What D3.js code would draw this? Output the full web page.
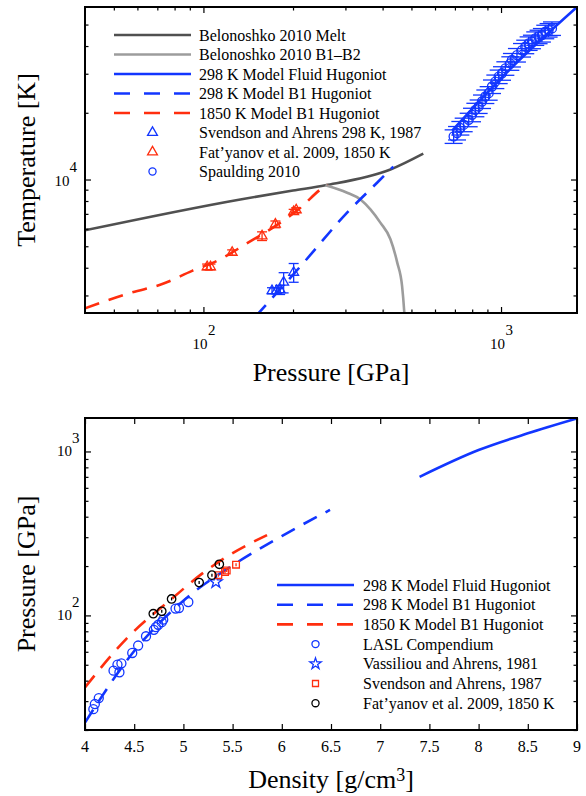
<!DOCTYPE html>
<html><head><meta charset="utf-8">
<script src="https://cdn.jsdelivr.net/npm/d3@7"></script>
<style>
body{margin:0;background:#fff}
svg{display:block}
text{font-family:"Liberation Serif","Times New Roman",serif;fill:#000}
</style>
</head><body><svg id="c" width="586" height="796"></svg>
<script>
// ---------- TOP PANEL DATA (Pressure GPa, Temperature K) ----------
const meltP = [40, 133, 200, 257, 425, 548];
const meltT = [5900, 8130, 8920, 9420, 11090, 13080];
const b1b2P = [257, 304, 337, 364, 393, 425, 448, 465, 473, 478];
const b1b2T = [9420, 8720, 8130, 7330, 6390, 5380, 4220, 3310, 2525, 2000];
const fluidTopP = [685, 1048, 1800];
const fluidTopT = [16600, 30500, 60000];
const b1ColdTopP = [150, 215, 304.5, 384, 434.5];
const b1ColdTopT = [2420, 4152, 7108, 9695, 11440];
const b1HotTopP = [40, 57.6, 72.7, 91.6, 114, 138.4, 181.4, 211.8, 247.2, 261];
const b1HotTopT = [2625, 3097, 3376, 3873, 4372, 5105, 6391, 7463, 9017, 9495];
const svendTriP = [170, 176, 181, 186, 201];
const svendTriT = [3150, 3150, 3180, 3440, 3810];
const svendTriErr = [100, 100, 150, 360, 370];
const fatTriP = [102.9, 105.6, 124.9, 157.4, 174.5, 201, 205];
const fatTriT = [4036, 4036, 4685, 5557, 6280, 7156, 7280];
const fatTriErr = [120, 120, 130, 250, 220, 180, 180];
const spauldP = [693, 711.5, 730, 749, 778.6, 799, 819.9, 841, 863, 885.7, 908.8, 932.5, 956.9, 982, 1007.6, 1034, 1074.5, 1088, 1131, 1176, 1206, 1238, 1270, 1303, 1337, 1372, 1408, 1445, 1483];
const spauldT = [15650, 16210, 17070, 17670, 18600, 19590, 20630, 21350, 22480, 23680, 24510, 26270, 27650, 29120, 30150, 31740, 33430, 34600, 36430, 38370, 39720, 41110, 41830, 43300, 44060, 44830, 46390, 47200, 48020];
const spauldErr = [1100, 1130, 1200, 1240, 1300, 1370, 1440, 1490, 1570, 1660, 1720, 1840, 1940, 2040, 2110, 2220, 2340, 2420, 2550, 2690, 2780, 2880, 2930, 3030, 3080, 3140, 3250, 3300, 3360];

// ---------- BOTTOM PANEL DATA (Density g/cm3, Pressure GPa) ----------
const fluidBotRho = [7.4, 8.0, 8.5, 9.0];
const fluidBotP = [700, 1020, 1290, 1590];
const b1ColdBotRho = [4.0, 4.49, 5.0, 5.5, 6.0, 6.49];
const b1ColdBotP = [22.2, 59.6, 123, 202, 305, 440];
const b1HotBotRho = [4.0, 4.42, 4.9, 5.17, 5.44, 5.85];
const b1HotBotP = [36.4, 72, 129, 176, 228, 309];
const laslRho = [4.085, 4.10, 4.14, 4.29, 4.33, 4.35, 4.37, 4.48, 4.54, 4.62, 4.70, 4.72, 4.745, 4.78, 4.795, 4.92, 4.955, 5.05];
const laslP = [26.8, 28.8, 31.3, 46, 50.1, 45, 51, 59, 65.5, 74.6, 81.7, 84.8, 87.7, 90.9, 94.2, 110, 111, 120.7];
const vassRho = [5.33];
const vassP = [160];
const svendSqRho = [5.355, 5.423, 5.44, 5.535];
const svendSqP = [176, 184, 188, 204];
const fatCircRho = [4.694, 4.78, 4.88, 5.16, 5.29, 5.365];
const fatCircP = [102.4, 106, 126, 158.6, 176, 205];

// ---------- TICKS ----------
const topXMajor = [100, 1000];
const topXMinor = [50, 60, 70, 80, 90, 200, 300, 400, 500, 600, 700, 800, 900];
const topYMajor = [10000];
const topYMinor = [3000, 4000, 5000, 6000, 7000, 8000, 9000, 20000, 30000, 40000, 50000];
const botXTicks = [4, 4.5, 5, 5.5, 6, 6.5, 7, 7.5, 8, 8.5, 9];
const botYMajor = [100, 1000];
const botYMinor = [20, 30, 40, 50, 60, 70, 80, 90, 200, 300, 400, 500, 600, 700, 800, 900];

const topLegend = ["Belonoshko 2010 Melt", "Belonoshko 2010 B1\u2013B2", "298 K Model Fluid Hugoniot", "298 K Model B1 Hugoniot", "1850 K Model B1 Hugoniot", "Svendson and Ahrens 298 K, 1987", "Fat\u2019yanov et al. 2009, 1850 K", "Spaulding 2010"];
const botLegend = ["298 K Model Fluid Hugoniot", "298 K Model B1 Hugoniot", "1850 K Model B1 Hugoniot", "LASL Compendium", "Vassiliou and Ahrens, 1981", "Svendson and Ahrens, 1987", "Fat\u2019yanov et al. 2009, 1850 K"];

// ---------- STYLE ----------
const BLUE = "#1236ff", RED = "#ff2e0e", DGRAY = "#505050", LGRAY = "#9c9c9c";
const DASH = "15,10";
const svg = d3.select("#c");

const L = 85, R = 577;
const xT = d3.scaleLog().domain([40, 1800]).range([L, R]);
const yT = d3.scaleLog().domain([2500, 60000]).range([313, 7]);
const xB = d3.scaleLinear().domain([4, 9]).range([L, R]);
const yB = d3.scaleLog().domain([20, 1600]).range([730, 418]);

const defs = svg.append("defs");
defs.append("clipPath").attr("id", "clipT").append("rect")
  .attr("x", L).attr("y", 7).attr("width", R - L).attr("height", 306);
defs.append("clipPath").attr("id", "clipB").append("rect")
  .attr("x", L).attr("y", 418).attr("width", R - L).attr("height", 312);

function zip(a, b) { return a.map((v, i) => [v, b[i]]); }

function drawAxes(x, y, x0, y0, x1, y1, xMaj, xMin, yMaj, yMin) {
  const g = svg.append("g");
  const MJ = 6, MN = 3.5;
  const parts = [
    [d3.axisBottom(x), xMaj, MJ, `translate(0,${y1})`],
    [d3.axisBottom(x), xMin, MN, `translate(0,${y1})`],
    [d3.axisTop(x), xMaj, MJ, `translate(0,${y0})`],
    [d3.axisTop(x), xMin, MN, `translate(0,${y0})`],
    [d3.axisLeft(y), yMaj, MJ, `translate(${x0},0)`],
    [d3.axisLeft(y), yMin, MN, `translate(${x0},0)`],
    [d3.axisRight(y), yMaj, MJ, `translate(${x1},0)`],
    [d3.axisRight(y), yMin, MN, `translate(${x1},0)`]
  ];
  parts.forEach(([ax, vals, len, tr]) => {
    if (!vals.length) return;
    const a = g.append("g").attr("transform", tr)
      .call(ax.tickValues(vals).tickSize(-len).tickFormat(""));
    a.select(".domain").remove();
    a.selectAll("line").attr("stroke", "#000").attr("stroke-width", 1.2);
  });
  g.append("rect").attr("x", x0).attr("y", y0).attr("width", x1 - x0).attr("height", y1 - y0)
    .attr("fill", "none").attr("stroke", "#000").attr("stroke-width", 2);
}

function pathLine(g, x, y, data, color, dash, clip) {
  const line = d3.line().x(d => x(d[0])).y(d => y(d[1])).curve(d3.curveMonotoneX);
  g.append("path").datum(data).attr("d", line).attr("fill", "none")
    .attr("stroke", color).attr("stroke-width", 2.6)
    .attr("stroke-dasharray", dash || null).attr("clip-path", clip);
}

function errV(g, x, y, px, py, e, color, cap) {
  const gg = g.append("g").attr("stroke", color).attr("stroke-width", 1.3).attr("fill", "none");
  px.forEach((p, i) => {
    const cx = x(p), ya = y(py[i] - e[i]), yb = y(py[i] + e[i]);
    gg.append("line").attr("x1", cx).attr("x2", cx).attr("y1", ya).attr("y2", yb);
    gg.append("line").attr("x1", cx - cap / 2).attr("x2", cx + cap / 2).attr("y1", ya).attr("y2", ya);
    gg.append("line").attr("x1", cx - cap / 2).attr("x2", cx + cap / 2).attr("y1", yb).attr("y2", yb);
  });
}

function markers(g, x, y, px, py, type, size, color) {
  const sym = d3.symbol().type(type).size(size);
  g.selectAll(null).data(zip(px, py)).enter().append("path")
    .attr("d", sym)
    .attr("transform", d => `translate(${x(d[0])},${y(d[1])})`)
    .attr("fill", "none").attr("stroke", color).attr("stroke-width", 1.3);
}

// ================= TOP PANEL =================
const gT = svg.append("g");
pathLine(gT, xT, yT, zip(meltP, meltT), DGRAY, null, "url(#clipT)");
pathLine(gT, xT, yT, zip(b1b2P, b1b2T), LGRAY, null, "url(#clipT)");
pathLine(gT, xT, yT, zip(b1HotTopP, b1HotTopT), RED, DASH, "url(#clipT)");
pathLine(gT, xT, yT, zip(b1ColdTopP, b1ColdTopT), BLUE, DASH, "url(#clipT)");
errV(gT, xT, yT, spauldP, spauldT, spauldErr, BLUE, 18);
markers(gT, xT, yT, spauldP, spauldT, d3.symbolCircle, 64, BLUE);
pathLine(gT, xT, yT, zip(fluidTopP, fluidTopT), BLUE, null, "url(#clipT)");
errV(gT, xT, yT, fatTriP, fatTriT, fatTriErr, RED, 10);
markers(gT, xT, yT, fatTriP, fatTriT, d3.symbolTriangle, 42, RED);
errV(gT, xT, yT, svendTriP, svendTriT, svendTriErr, BLUE, 10);
markers(gT, xT, yT, svendTriP, svendTriT, d3.symbolTriangle, 42, BLUE);

drawAxes(xT, yT, L, 7, R, 313, topXMajor, topXMinor, topYMajor, topYMinor);

// tick labels top
topXMajor.forEach(v => {
  const e = Math.round(Math.log10(v));
  svg.append("text").attr("x", xT(v) - 3.5).attr("y", 349).attr("text-anchor", "middle")
    .attr("font-size", 15).text("10");
  svg.append("text").attr("x", xT(v) + 4.5).attr("y", 335).attr("text-anchor", "start")
    .attr("font-size", 15).text(e);
});
topYMajor.forEach(v => {
  const e = Math.round(Math.log10(v));
  svg.append("text").attr("x", 69.5).attr("y", yT(v) + 6).attr("text-anchor", "end")
    .attr("font-size", 15).text("10");
  svg.append("text").attr("x", 69.5).attr("y", yT(v) - 8).attr("text-anchor", "start")
    .attr("font-size", 15).text(e);
});
svg.append("text").attr("x", 331).attr("y", 381).attr("text-anchor", "middle")
  .attr("font-size", 26).text("Pressure [GPa]");
svg.append("text").attr("transform", "translate(35,160) rotate(-90)").attr("text-anchor", "middle")
  .attr("font-size", 26).text("Temperature [K]");

// legend top
function legend(items, kinds, x0, x1, tx, y0, dy) {
  items.forEach((t, i) => {
    const y = y0 + i * dy, k = kinds[i];
    if (k.line) {
      svg.append("line").attr("x1", x0).attr("x2", x1).attr("y1", y).attr("y2", y)
        .attr("stroke", k.color).attr("stroke-width", 2.6).attr("stroke-dasharray", k.dash || null);
    } else {
      svg.append("path").attr("d", d3.symbol().type(k.sym).size(k.size)())
        .attr("transform", `translate(${(x0 + x1) / 2},${y})`)
        .attr("fill", "none").attr("stroke", k.color).attr("stroke-width", 1.3);
    }
    svg.append("text").attr("x", tx).attr("y", y + 5.5).attr("font-size", 16).text(t);
  });
}
legend(topLegend, [
  { line: 1, color: DGRAY }, { line: 1, color: LGRAY }, { line: 1, color: BLUE },
  { line: 1, color: BLUE, dash: "16,14" }, { line: 1, color: RED, dash: "16,14" },
  { sym: d3.symbolTriangle, size: 42, color: BLUE }, { sym: d3.symbolTriangle, size: 42, color: RED },
  { sym: d3.symbolCircle, size: 40, color: BLUE }
], 114, 191, 199, 35, 19.5);

// ================= BOTTOM PANEL =================
const gB = svg.append("g");
pathLine(gB, xB, yB, zip(fluidBotRho, fluidBotP), BLUE, null, "url(#clipB)");
pathLine(gB, xB, yB, zip(b1ColdBotRho, b1ColdBotP), BLUE, DASH, "url(#clipB)");
pathLine(gB, xB, yB, zip(b1HotBotRho, b1HotBotP), RED, DASH, "url(#clipB)");
markers(gB, xB, yB, laslRho, laslP, d3.symbolCircle, 64, BLUE);
markers(gB, xB, yB, vassRho, vassP, d3.symbolStar, 50, BLUE);
errV(gB, xB, yB, svendSqRho, svendSqP, svendSqRho.map(() => 0), RED, 0);
markers(gB, xB, yB, svendSqRho, svendSqP, d3.symbolSquare, 45, RED);
markers(gB, xB, yB, fatCircRho, fatCircP, d3.symbolCircle, 56, "#000");
gB.selectAll(null).data(zip(fatCircRho, fatCircP)).enter().append("line")
  .attr("x1", d => xB(d[0])).attr("x2", d => xB(d[0]))
  .attr("y1", d => yB(d[1]) - 1.5).attr("y2", d => yB(d[1]) + 1.5)
  .attr("stroke", "#000").attr("stroke-width", 1.3);
gB.selectAll(null).data(zip(svendSqRho, svendSqP)).enter().append("line")
  .attr("x1", d => xB(d[0])).attr("x2", d => xB(d[0]))
  .attr("y1", d => yB(d[1]) - 1.5).attr("y2", d => yB(d[1]) + 1.5)
  .attr("stroke", RED).attr("stroke-width", 1.3);

drawAxes(xB, yB, L, 418, R, 730, botXTicks, [], botYMajor, botYMinor);

botXTicks.forEach(v => {
  svg.append("text").attr("x", xB(v)).attr("y", 751.5).attr("text-anchor", "middle")
    .attr("font-size", 16).text(String(v));
});
botYMajor.forEach(v => {
  const e = Math.round(Math.log10(v));
  svg.append("text").attr("x", 72).attr("y", yB(v) + 5).attr("text-anchor", "end")
    .attr("font-size", 15).text("10");
  svg.append("text").attr("x", 72).attr("y", yB(v) - 8).attr("text-anchor", "start")
    .attr("font-size", 15).text(e);
});
const dl = svg.append("text").attr("x", 331).attr("y", 788).attr("text-anchor", "middle").attr("font-size", 26);
dl.append("tspan").text("Density [g/cm");
dl.append("tspan").attr("font-size", 18).attr("dy", -7).text("3");
dl.append("tspan").attr("dy", 7).text("]");
svg.append("text").attr("transform", "translate(35,574) rotate(-90)").attr("text-anchor", "middle")
  .attr("font-size", 26).text("Pressure [GPa]");

legend(botLegend, [
  { line: 1, color: BLUE }, { line: 1, color: BLUE, dash: "16,14" }, { line: 1, color: RED, dash: "16,14" },
  { sym: d3.symbolCircle, size: 40, color: BLUE }, { sym: d3.symbolStar, size: 40, color: BLUE },
  { sym: d3.symbolSquare, size: 36, color: RED }, { sym: d3.symbolCircle, size: 40, color: "#000" }
], 277, 354, 363, 585, 19.7);
</script>
</body></html>
